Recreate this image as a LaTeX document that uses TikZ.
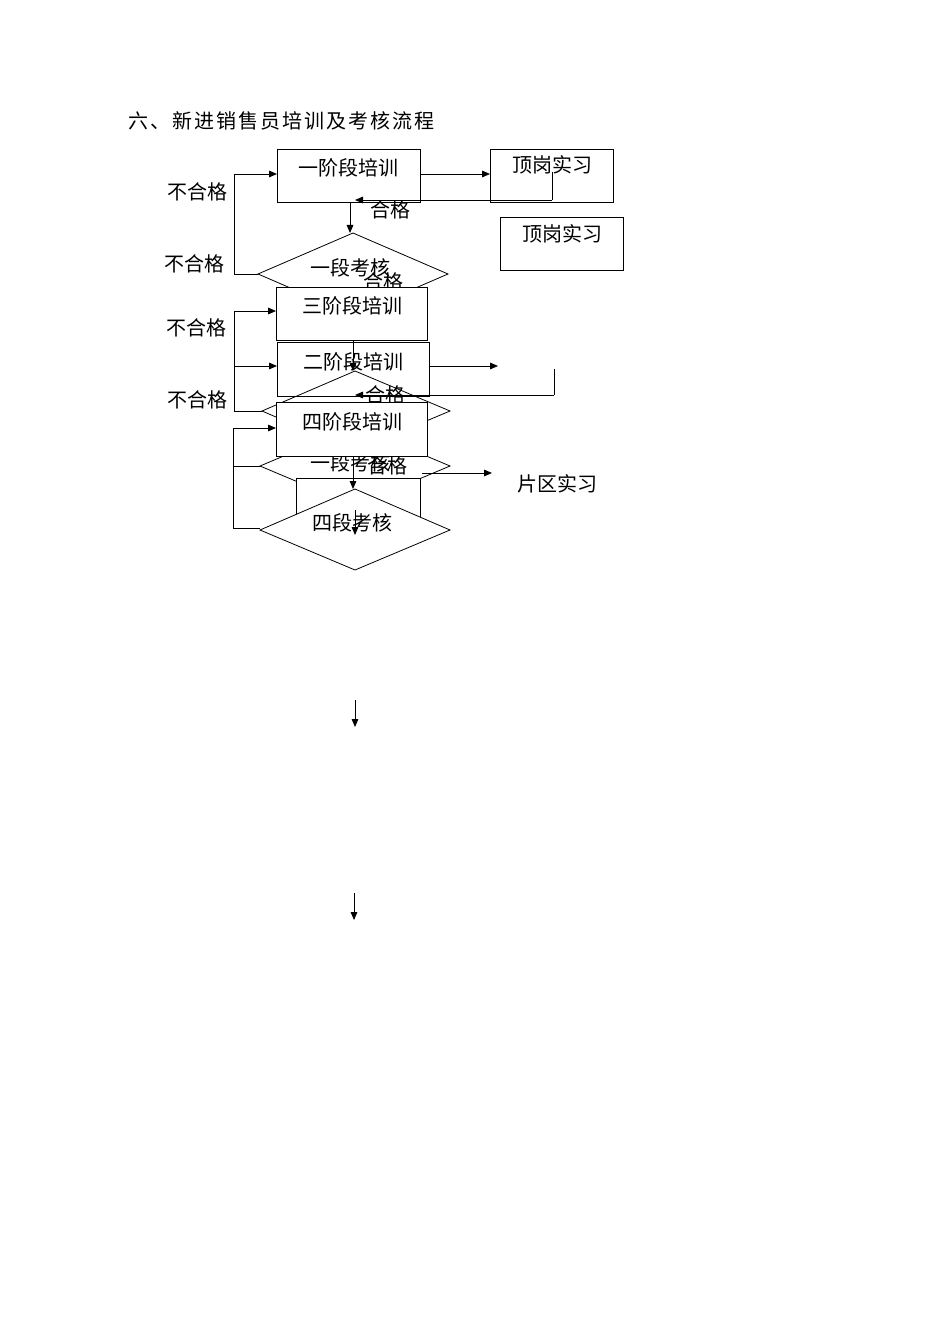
\documentclass[tikz,border=0pt]{standalone}
\usepackage{fontspec}
\setmainfont{Noto Sans CJK SC}
\usetikzlibrary{arrows.meta}
\begin{document}
\begin{tikzpicture}[x=0.75pt,y=-0.75pt,
  every node/.style={font=\fontsize{15}{17}\selectfont, inner sep=0pt},
  bx/.style={draw, line width=0.6pt},
  ln/.style={line width=0.6pt},
  ar/.style={line width=0.6pt,-{Triangle[length=6pt,width=5pt]}}]
\useasboundingbox (0,0) rectangle (950,1344);
\node[anchor=west] (title) at (128,121) {\addfontfeature{LetterSpace=10}六、新进销售员培训及考核流程};
% boxes top
\draw[bx] (277,149) rectangle (420,202); \node (b1) at (348,168) {一阶段培训};
\draw[bx] (490,149) rectangle (613,202); \node (d1) at (552,165) {顶岗实习};
\draw[bx] (500,217) rectangle (623,270); \node (d2) at (562,234) {顶岗实习};
\draw[ar] (420,174) -- (490,174);
\draw[ln] (552,172) -- (552,200);
\draw[ar] (552,200) -- (355,200);
\draw[ar] (350,202) -- (350,233);
\node (h1) at (390,210) {合格};
% diamond 1
\draw[ln] (258,274) -- (353,233) -- (448,274) -- (353,315) -- cycle;
\node (k1) at (350,268) {一段考核};
\node (h2) at (383,282) {合格};
\node (n1) at (197,192) {不合格};
\node (n2) at (194,264) {不合格};
\draw[ln] (258,274) -- (234,274) -- (234,174);
\draw[ar] (234,174) -- (277,174);
% diamond 2 and 3
\draw[ln] (262,411) -- (355,371) -- (450,411) -- (355,451) -- cycle;
\draw[ln] (260,466) -- (355,426) -- (450,466) -- (355,506) -- cycle;
\node (k3) at (350,463) {一段考核};
% hidden box
\draw[bx,fill=white] (296,478) rectangle (420,530);
% boxes middle
\draw[bx,fill=white] (276,287) rectangle (427,340); \node (b3) at (352,306) {三阶段培训};
\draw[bx] (277,342) rectangle (429,396); \node (b2) at (353,362) {二阶段培训};
\draw[ar] (353,340) -- (353,371);
\draw[ar] (429,366) -- (498,366);
\draw[ln] (554,369) -- (554,395);
\draw[ar] (554,395) -- (355,395);
\node (h3) at (385,395) {合格};
\draw[bx,fill=white] (276,402) rectangle (427,456); \node (b4) at (352,422) {四阶段培训};
\node (h4) at (387,466) {合格};
\draw[ar] (422,473) -- (492,473);
\node (p) at (557,484) {片区实习};
% diamond 4
\draw[ln,fill=white] (260,530) -- (355,489) -- (450,530) -- (355,570) -- cycle;
\node (k4) at (352,523) {四段考核};
\draw[ar] (353,456) -- (353,489);
\draw[ar] (355,510) -- (355,535);
% left loops
\node (n3) at (196,328) {不合格};
\node (n4) at (197,400) {不合格};
\draw[ln] (262,411) -- (234,411) -- (234,311);
\draw[ar] (234,311) -- (276,311);
\draw[ar] (234,366) -- (277,366);
\draw[ln] (260,528) -- (233,528) -- (233,428);
\draw[ar] (233,428) -- (276,428);
\draw[ln] (260,466) -- (233,466);
% stray arrows
\draw[ar] (355,700) -- (355,727);
\draw[ar] (354,893) -- (354,920);
\end{tikzpicture}
\end{document}
